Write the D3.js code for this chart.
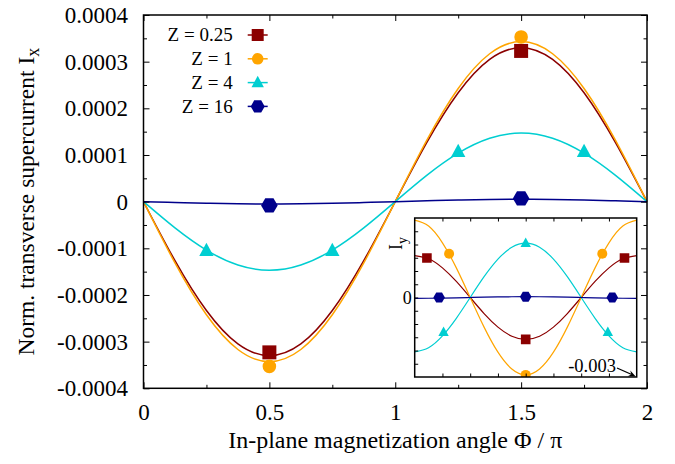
<!DOCTYPE html>
<html>
<head>
<meta charset="utf-8">
<script src="https://cdn.jsdelivr.net/npm/d3@7"></script>
<style>
body { margin: 0; background: #fff; }
svg { display: block; }
text { font-family: "Liberation Serif", "Times New Roman", serif; fill: #000; }
</style>
</head>
<body>
<svg width="675" height="464"></svg>
<script>
const width = 675;
const height = 464;
const serif = '"Liberation Serif", "Times New Roman", serif';

// magnetization angle Phi / pi
var phi = [0, 0.125, 0.25, 0.375, 0.5, 0.625, 0.75, 0.875, 1,
           1.125, 1.25, 1.375, 1.5, 1.625, 1.75, 1.875, 2];

// main panel: I_x
var ixZ025 = [0, -0.0001264, -0.0002333, -0.0003049, -0.000330, -0.0003049, -0.0002333, -0.0001264, 0,
              0.0001264, 0.0002333, 0.0003049, 0.000330, 0.0003049, 0.0002333, 0.0001264, 0];
var ixZ1   = [0, -0.0001313, -0.0002425, -0.0003169, -0.000343, -0.0003169, -0.0002425, -0.0001313, 0,
              0.0001313, 0.0002425, 0.0003169, 0.000343, 0.0003169, 0.0002425, 0.0001313, 0];
var ixZ4   = [0, -0.0000563, -0.0001039, -0.0001358, -0.000147, -0.0001358, -0.0001039, -0.0000563, 0,
              0.0000563, 0.0001039, 0.0001358, 0.000147, 0.0001358, 0.0001039, 0.0000563, 0];
var ixZ16  = [0, -0.0000019, -0.0000035, -0.0000046, -0.000005, -0.0000046, -0.0000035, -0.0000019, 0,
              0.0000019, 0.0000035, 0.0000046, 0.000005, 0.0000046, 0.0000035, 0.0000019, 0];

// main panel symbols
var ptsZ025 = [[0.5, -0.000323], [1.5, 0.000323]];
var ptsZ1   = [[0.5, -0.000353], [1.5, 0.000353]];
var ptsZ4   = [[0.25, -0.000105], [0.75, -0.000105], [1.25, 0.000107], [1.75, 0.000107]];
var ptsZ16  = [[0.5, -0.000008], [1.5, 0.000007]];

// inset: I_y
var iyZ025 = [0.00158, 0.00146, 0.001117, 0.000605, 0, -0.000605, -0.001117, -0.00146, -0.00158,
              -0.00146, -0.001117, -0.000605, 0, 0.000605, 0.001117, 0.00146, 0.00158];
var iyZ1   = [0.00292, 0.002698, 0.002064, 0.001118, 0, -0.001118, -0.002064, -0.002698, -0.00292,
              -0.002698, -0.002064, -0.001118, 0, 0.001118, 0.002064, 0.002698, 0.00292];
var iyZ4   = [-0.00205, -0.001894, -0.001449, -0.000785, 0, 0.000785, 0.001449, 0.001894, 0.00205,
              0.001894, 0.001449, 0.000785, 0, -0.000785, -0.001449, -0.001894, -0.00205];
var iyZ16  = [-0.00003, -0.000028, -0.000021, -0.000011, 0, 0.000011, 0.000021, 0.000028, 0.00003,
              0.000028, 0.000021, 0.000011, 0, -0.000011, -0.000021, -0.000028, -0.00003];

var insetZ025 = [[0.11, 0.00149], [1, -0.00158], [1.89, 0.00149]];
var insetZ1   = [[0.31, 0.00165], [1, -0.00292], [1.69, 0.00165]];
var insetZ4   = [[0.26, -0.00131], [1, 0.00205], [1.74, -0.00131]];
var insetZ16  = [[0.22, 0], [1, 0.00003], [1.78, 0]];

var legendLabels = ["Z = 0.25", "Z = 1", "Z = 4", "Z = 16"];
var colors = ["#8b0000", "#ffa500", "#00ced1", "#00008b"];
var symbols = ["square", "circle", "triangle", "hexagon"];

var xMajor = [0, 0.5, 1, 1.5, 2];
var xMinor = [0.25, 0.75, 1.25, 1.75];
var xLabels = ["0", "0.5", "1", "1.5", "2"];
var yMajor = [-0.0004, -0.0003, -0.0002, -0.0001, 0, 0.0001, 0.0002, 0.0003, 0.0004];
var yMinor = [-0.00035, -0.00025, -0.00015, -0.00005, 0.00005, 0.00015, 0.00025, 0.00035];
var yLabels = ["-0.0004", "-0.0003", "-0.0002", "-0.0001", "0", "0.0001", "0.0002", "0.0003", "0.0004"];

var insetXTicks = [0.25, 0.5, 0.75, 1, 1.25, 1.5, 1.75];
var insetYTicks = [-0.0025, -0.002, -0.0015, -0.001, -0.0005, 0, 0.0005, 0.001, 0.0015, 0.002, 0.0025];

var svg = d3.select("svg");

var box = {left: 143.5, right: 647, top: 15, bottom: 388.3};
var x = d3.scaleLinear().domain([0, 2]).range([box.left, box.right]);
var y = d3.scaleLinear().domain([-0.0004, 0.0004]).range([box.bottom, box.top]);

var ibox = {left: 414.7, right: 636.7, top: 218, bottom: 377};
var ix = d3.scaleLinear().domain([0, 2]).range([ibox.left, ibox.right]);
var iy = d3.scaleLinear().domain([-0.003, 0.003]).range([ibox.bottom, ibox.top]);

function symbolPath(kind, s) {
    // s = half size
    if (kind == "square") return "M" + (-s) + "," + (-s) + "H" + s + "V" + s + "H" + (-s) + "Z";
    if (kind == "circle") return "M" + (-s) + ",0A" + s + "," + s + " 0 1,0 " + s + ",0A" + s + "," + s + " 0 1,0 " + (-s) + ",0Z";
    if (kind == "triangle") return "M0," + (-s * 1.1) + "L" + s + "," + (s * 0.75) + "L" + (-s) + "," + (s * 0.75) + "Z";
    var h = s * 0.866, p = [];
    p.push([-s, 0], [-s / 2, -h], [s / 2, -h], [s, 0], [s / 2, h], [-s / 2, h]);
    return "M" + p.map(function (d) { return d.join(","); }).join("L") + "Z";
}

function drawSeries(g, xs, ys, vals, pts, color, kind, size, lw) {
    var line = d3.line()
        .x(function (d, i) { return xs(phi[i]); })
        .y(function (d) { return ys(d); })
        .curve(d3.curveNatural);
    g.append("path")
        .attr("d", line(vals))
        .attr("fill", "none")
        .attr("stroke", color)
        .attr("stroke-width", lw);
    g.selectAll(null).data(pts).enter().append("path")
        .attr("transform", function (d) { return "translate(" + xs(d[0]) + "," + ys(d[1]) + ")"; })
        .attr("d", symbolPath(kind, size))
        .attr("fill", color);
}

function styleAxis(g, size) {
    g.select(".domain").remove();
    g.selectAll("line").attr("stroke", "#000").attr("stroke-width", 1);
    g.attr("font-family", serif).attr("font-size", size);
    g.selectAll("text").attr("fill", "#000").style("font-family", serif).style("font-size", size + "px");
}

// ----- main panel -----
var main = svg.append("g");

var ixSeries = [ixZ025, ixZ1, ixZ4, ixZ16];
var ptSeries = [ptsZ025, ptsZ1, ptsZ4, ptsZ16];
var mainSize = [7, 6.8, 7.2, 8.3];
ixSeries.forEach(function (vals, k) {
    drawSeries(main, x, y, vals, ptSeries[k], colors[k], symbols[k], mainSize[k], 1.5);
});

// ticks
main.append("g").attr("transform", "translate(0," + box.bottom + ")")
    .call(d3.axisBottom(x).tickValues(xMajor).tickSize(-6).tickPadding(15.5)
        .tickFormat(function (d, i) { return xLabels[i]; }))
    .call(styleAxis, 23);
main.append("g").attr("transform", "translate(0," + box.bottom + ")")
    .call(d3.axisBottom(x).tickValues(xMinor).tickSize(-3.5).tickFormat(""))
    .call(styleAxis, 23);
main.append("g").attr("transform", "translate(0," + box.top + ")")
    .call(d3.axisTop(x).tickValues(xMajor).tickSize(-6).tickFormat(""))
    .call(styleAxis, 23);
main.append("g").attr("transform", "translate(0," + box.top + ")")
    .call(d3.axisTop(x).tickValues(xMinor).tickSize(-3.5).tickFormat(""))
    .call(styleAxis, 23);
main.append("g").attr("transform", "translate(" + box.left + ",0)")
    .call(d3.axisLeft(y).tickValues(yMajor).tickSize(-6).tickPadding(15.5)
        .tickFormat(function (d, i) { return yLabels[i]; }))
    .call(styleAxis, 23);
main.append("g").attr("transform", "translate(" + box.left + ",0)")
    .call(d3.axisLeft(y).tickValues(yMinor).tickSize(-3.5).tickFormat(""))
    .call(styleAxis, 23);
main.append("g").attr("transform", "translate(" + box.right + ",0)")
    .call(d3.axisRight(y).tickValues(yMajor).tickSize(-6).tickFormat(""))
    .call(styleAxis, 23);
main.append("g").attr("transform", "translate(" + box.right + ",0)")
    .call(d3.axisRight(y).tickValues(yMinor).tickSize(-3.5).tickFormat(""))
    .call(styleAxis, 23);

main.append("rect")
    .attr("x", box.left).attr("y", box.top)
    .attr("width", box.right - box.left).attr("height", box.bottom - box.top)
    .attr("fill", "none").attr("stroke", "#000").attr("stroke-width", 1.5);

// axis titles
main.append("text")
    .attr("x", (box.left + box.right) / 2).attr("y", 448)
    .attr("text-anchor", "middle")
    .style("font-family", serif).style("font-size", "24px")
    .text("In-plane magnetization angle \u03A6 / \u03C0");

var yt = main.append("text")
    .attr("transform", "translate(34," + ((box.top + box.bottom) / 2) + ") rotate(-90)")
    .attr("text-anchor", "middle")
    .style("font-family", serif).style("font-size", "23.5px");
yt.append("tspan").text("Norm. transverse supercurrent I");
yt.append("tspan").style("font-size", "18px").attr("dy", 5).text("x");

// legend
var leg = main.append("g");
legendLabels.forEach(function (label, k) {
    var ly = 35 + k * 23.8;
    leg.append("text")
        .attr("x", 232.7).attr("y", ly).attr("dy", "0.33em")
        .attr("text-anchor", "end")
        .style("font-family", serif).style("font-size", "19px")
        .text(label);
    leg.append("line")
        .attr("x1", 247.7).attr("x2", 267.7).attr("y1", ly).attr("y2", ly)
        .attr("stroke", colors[k]).attr("stroke-width", 1.5);
    leg.append("path")
        .attr("transform", "translate(257.7," + ly + ")")
        .attr("d", symbolPath(symbols[k], [6, 5.8, 6.2, 7][k]))
        .attr("fill", colors[k]);
});

// ----- inset -----
var inset = svg.append("g");
inset.append("rect")
    .attr("x", ibox.left).attr("y", ibox.top)
    .attr("width", ibox.right - ibox.left).attr("height", ibox.bottom - ibox.top)
    .attr("fill", "#fff");

var clip = svg.append("clipPath").attr("id", "insetclip");
clip.append("rect")
    .attr("x", ibox.left).attr("y", ibox.top)
    .attr("width", ibox.right - ibox.left).attr("height", ibox.bottom - ibox.top);

var iyData = [iyZ025, iyZ1, iyZ4, iyZ16];
var insetPts = [insetZ025, insetZ1, insetZ4, insetZ16];
var insetSize = [4.8, 5, 5.2, 5.8];
var inner = inset.append("g").attr("clip-path", "url(#insetclip)");
iyData.forEach(function (vals, k) {
    drawSeries(inner, ix, iy, vals, insetPts[k], colors[k], symbols[k], insetSize[k], 1.2);
});

inset.append("g").attr("transform", "translate(0," + ibox.bottom + ")")
    .call(d3.axisBottom(ix).tickValues(insetXTicks).tickSize(-3.5).tickFormat(""))
    .call(styleAxis, 18);
inset.append("g").attr("transform", "translate(0," + ibox.top + ")")
    .call(d3.axisTop(ix).tickValues(insetXTicks).tickSize(-3.5).tickFormat(""))
    .call(styleAxis, 18);
inset.append("g").attr("transform", "translate(" + ibox.left + ",0)")
    .call(d3.axisLeft(iy).tickValues(insetYTicks).tickSize(-3.5).tickPadding(3)
        .tickFormat(function (d) { return d == 0 ? "0" : ""; }))
    .call(styleAxis, 18);

inset.append("rect")
    .attr("x", ibox.left).attr("y", ibox.top)
    .attr("width", ibox.right - ibox.left).attr("height", ibox.bottom - ibox.top)
    .attr("fill", "none").attr("stroke", "#000").attr("stroke-width", 1.5);

var it = inset.append("text")
    .attr("transform", "translate(401.7,243.5) rotate(-90)")
    .attr("text-anchor", "middle")
    .style("font-family", serif).style("font-size", "18px");
it.append("tspan").text("I");
it.append("tspan").style("font-size", "14px").attr("dy", 5).text("y");

// -0.003 marker with arrow to the lower corner
inset.append("text")
    .attr("x", 616).attr("y", 371.7)
    .attr("text-anchor", "end")
    .style("font-family", serif).style("font-size", "18.5px")
    .text("-0.003");
var ax0 = 617, ay0 = 368, ax1 = ibox.right - 1, ay1 = ibox.bottom - 0.5;
inset.append("line")
    .attr("x1", ax0).attr("y1", ay0).attr("x2", ax1 - 4).attr("y2", ay1 - 2)
    .attr("stroke", "#000").attr("stroke-width", 1.3);
var ang = Math.atan2(ay1 - ay0, ax1 - ax0);
var hl = 8, hw = 0.4;
inset.append("path")
    .attr("d", "M" + ax1 + "," + ay1 +
        "L" + (ax1 - hl * Math.cos(ang - hw)) + "," + (ay1 - hl * Math.sin(ang - hw)) +
        "L" + (ax1 - hl * 0.6 * Math.cos(ang)) + "," + (ay1 - hl * 0.6 * Math.sin(ang)) +
        "L" + (ax1 - hl * Math.cos(ang + hw)) + "," + (ay1 - hl * Math.sin(ang + hw)) + "Z")
    .attr("fill", "#000");
</script>
</body>
</html>
